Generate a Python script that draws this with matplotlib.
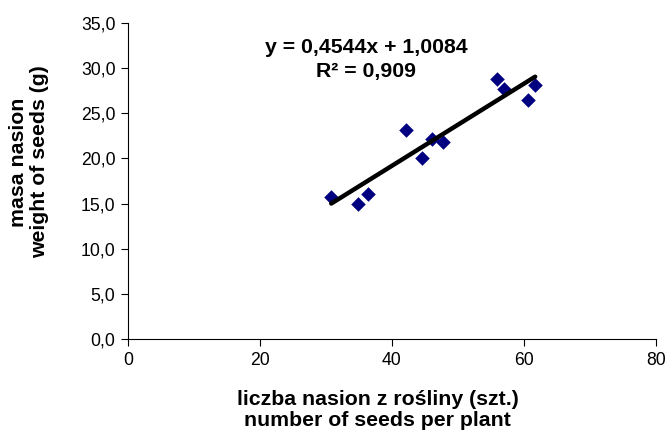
import numpy as np
from matplotlib import pyplot as plt, ticker as mticker

# seeds per plant vs. seed weight
seeds_per_plant = [30.8, 34.9, 36.3, 42.2, 44.5, 46.1, 47.8, 55.9, 57.0, 61.7, 60.6]
seed_weight = [15.7, 14.9, 16.1, 23.1, 20.1, 22.1, 21.8, 28.8, 27.7, 28.1, 26.5]
slope = 0.4544
intercept = 1.0084
r_squared = "0,909"

plt.rcParams['font.family'] = ['Liberation Sans', 'DejaVu Sans']

fig = plt.figure(figsize=(6.7, 4.32), dpi=100)
ax = fig.add_axes([0.191, 0.215, 0.788, 0.732])

ax.scatter(seeds_per_plant, seed_weight, marker='D', s=55, color='#000080', zorder=3, linewidths=0)

xs = np.array([min(seeds_per_plant), max(seeds_per_plant)])
ax.plot(xs, slope * xs + intercept, color='black', lw=3.2, solid_capstyle='round', zorder=4)

ax.set_xlim(0, 80)
ax.set_ylim(0, 35)
ax.xaxis.set_major_locator(mticker.MultipleLocator(20))
ax.yaxis.set_major_locator(mticker.MultipleLocator(5))
ax.yaxis.set_major_formatter(mticker.FuncFormatter(lambda v, p: f"{v:.1f}".replace('.', ',')))
ax.tick_params(labelsize=12.7, length=5, width=0.8, pad=4)

for side in ['top', 'right']:
    ax.spines[side].set_visible(False)

ax.set_xlabel('liczba nasion z rośliny (szt.)\nnumber of seeds per plant',
              fontsize=15.3, fontweight='bold', linespacing=1.15, va='center')
ax.xaxis.set_label_coords(0.473, -0.225)
ax.set_ylabel('masa nasion\nweight of seeds (g)',
              fontsize=15.3, fontweight='bold', linespacing=1.15, va='center')
ax.yaxis.set_label_coords(-0.1875, 0.56)

ax.text(0.451, 0.921, f"y = {slope:.4f}x + {intercept:.4f}".replace('.', ','),
        transform=ax.transAxes, ha='center', va='center', fontsize=15.3, fontweight='bold')
ax.text(0.451, 0.845, "R² = " + r_squared,
        transform=ax.transAxes, ha='center', va='center', fontsize=15.3, fontweight='bold')

plt.savefig('out.png', dpi=100)
plt.close()
